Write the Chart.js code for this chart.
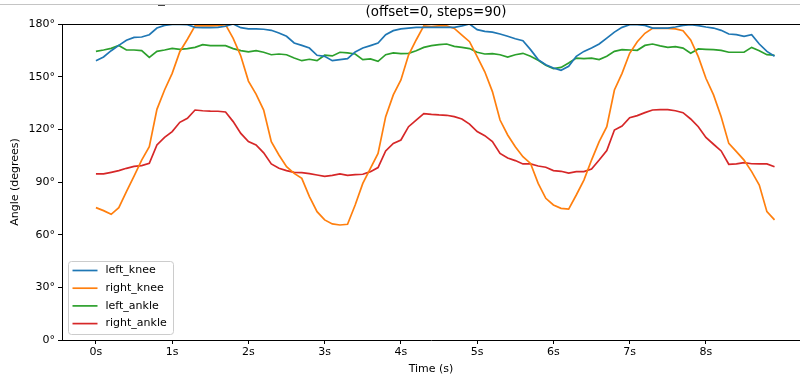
<html>
  <head>
    <style>
body {
  margin: 0;
  background: #fff;
  overflow: hidden;
}

#wrap {
  width: 800px;
  height: 376px;
  position: relative;
}
    </style>
  </head>
  <body>
    <div id="wrap"><canvas id="chart"></canvas></div>
    <script src="https://cdn.jsdelivr.net/npm/chart.js"></script>
    <script>

const seriesNames = ['left_knee', 'right_knee', 'left_ankle', 'right_ankle']
const seriesColors = ['#1f77b4', '#ff7f0e', '#2ca02c', '#d62728']
const secondTicks = [0, 1, 2, 3, 4, 5, 6, 7, 8]
const degreeTicks = [0, 30, 60, 90, 120, 150, 180]

const leftKnee = [
  159.1, 161.2, 164.8, 167.8, 170.7, 172.4, 172.6, 173.9, 177.7, 179.2, 179.8, 179.8, 179.6, 178.1, 177.9, 177.9, 178.1, 178.7, 180.0, 177.9, 177.2, 177.2, 177.0,
  176.4, 174.9, 173.0, 169.2, 167.8, 166.3, 162.2, 161.6, 159.1, 159.7, 160.3, 164.1, 166.3, 167.7, 169.2, 173.9, 176.2, 177.2, 177.7, 178.1, 178.1, 178.1, 178.1,
  178.1, 178.1, 178.9, 180.0, 176.8, 175.8, 175.4, 174.3, 173.0, 171.6, 170.5, 165.4, 159.7, 156.8, 154.9, 153.6, 155.9, 161.6, 164.4, 166.3, 168.6, 172.0, 175.4,
  178.1, 179.6, 179.6, 179.2, 177.7, 177.7, 177.7, 178.3, 179.2, 179.6, 179.1, 178.3, 177.7, 176.4, 174.3, 173.9, 173.0, 173.9, 168.6, 164.4, 161.6
]
const rightKnee = [
  75.4, 73.7, 71.6, 75.4, 84.5, 93.4, 102.5, 110.1, 131.4, 142.4, 151.9, 164.2, 171.3, 178.9, 178.9, 178.9, 179.0, 179.6, 171.8, 161.8, 147.5, 140.1, 131.0,
  113.0, 105.4, 98.7, 94.9, 92.1, 81.7, 73.1, 68.4, 66.1, 65.5, 65.9, 76.9, 89.2, 97.8, 106.3, 127.2, 139.6, 148.1, 162.3, 170.9, 178.9, 178.5, 178.9,
  179.0, 177.5, 173.7, 169.9, 161.4, 152.8, 141.5, 125.3, 116.8, 110.1, 104.4, 100.6, 89.2, 80.7, 76.9, 75.0, 74.6, 82.6, 91.1, 102.5, 113.0, 121.5, 142.4,
  151.9, 163.3, 169.9, 174.7, 177.5, 177.5, 177.5, 177.2, 176.2, 170.9, 161.4, 149.1, 139.6, 127.2, 112.0, 107.3, 102.5, 95.9, 88.3, 73.1, 68.4
]
const leftAnkle = [
  164.4, 165.2, 166.1, 167.8, 165.2, 165.2, 164.8, 161.0, 164.4, 165.2, 166.1, 165.6, 166.0, 166.7, 168.2, 167.7, 167.7, 167.7, 166.0, 164.8, 164.1, 164.8, 163.9,
  162.5, 162.9, 162.5, 160.6, 159.1, 159.9, 159.1, 162.2, 161.8, 163.9, 163.5, 162.9, 159.7, 160.1, 158.7, 162.5, 163.5, 163.1, 163.3, 164.8, 166.7, 167.7, 168.2,
  168.6, 167.3, 166.7, 166.0, 163.9, 162.9, 163.1, 162.5, 161.2, 162.5, 163.3, 161.6, 159.3, 156.5, 154.6, 155.3, 157.8, 160.6, 160.3, 160.6, 159.7, 161.6, 164.4,
  165.4, 165.2, 165.0, 167.8, 168.6, 167.5, 166.7, 167.1, 166.3, 163.3, 165.8, 165.6, 165.4, 165.0, 163.9, 163.9, 163.9, 166.7, 164.8, 162.5, 162.2
]
const rightAnkle = [
  94.6, 94.6, 95.5, 96.5, 97.8, 98.9, 99.3, 100.6, 111.1, 115.4, 118.7, 124.0, 126.3, 131.0, 130.6, 130.4, 130.3, 129.9, 124.4, 117.7, 113.0, 111.1, 106.6,
  100.3, 97.8, 96.5, 95.5, 95.3, 94.8, 94.0, 93.2, 93.8, 94.6, 93.8, 94.2, 94.4, 95.9, 98.2, 107.7, 112.0, 113.9, 121.5, 125.3, 128.9, 128.5, 128.2,
  128.0, 127.2, 125.9, 123.0, 118.7, 116.4, 113.0, 106.3, 103.7, 102.2, 100.3, 100.3, 99.1, 98.4, 96.5, 96.1, 95.1, 95.9, 95.9, 97.4, 102.5, 107.9, 119.6,
  121.9, 126.6, 127.8, 129.5, 131.0, 131.2, 131.2, 130.6, 129.5, 125.9, 121.5, 115.4, 111.5, 107.7, 100.1, 100.3, 101.0, 100.4, 100.3, 100.3, 98.7
]

// 90 steps, one frame every 0.1 s
const times = leftKnee.map((_, i) => i / 10)
const allSeries = [leftKnee, rightKnee, leftAnkle, rightAnkle]

const FONT = "'DejaVu Sans', sans-serif"

const extras = {
  id: 'extras',
  beforeDraw(chart) {
    const ctx = chart.ctx
    ctx.save()
    ctx.fillStyle = '#fff'
    ctx.fillRect(0, 0, chart.width, chart.height)
    ctx.strokeStyle = '#c4c4c4'
    ctx.lineWidth = 1
    ctx.beginPath()
    ctx.moveTo(0, 4.5)
    ctx.lineTo(chart.width, 4.5)
    ctx.stroke()
    ctx.strokeStyle = '#444'
    ctx.beginPath()
    ctx.moveTo(158, 5.5)
    ctx.lineTo(165, 5.5)
    ctx.stroke()
    ctx.restore()
  },
  afterDraw(chart) {
    const ctx = chart.ctx
    const area = chart.chartArea
    ctx.save()
    // top spine
    ctx.strokeStyle = '#000'
    ctx.lineWidth = 1
    ctx.beginPath()
    ctx.moveTo(area.left, area.top + 0.5)
    ctx.lineTo(area.right, area.top + 0.5)
    ctx.stroke()

    // title, centred on the full (cropped) axes
    ctx.fillStyle = '#000'
    ctx.font = '13.4px ' + FONT
    ctx.textAlign = 'center'
    ctx.textBaseline = 'middle'
    ctx.fillText('(offset=0, steps=90)', 436, 13)

    // legend in lower left corner
    const bx = area.left + 6.5
    const by = area.bottom - 78.5
    ctx.fillStyle = 'rgba(255,255,255,0.8)'
    ctx.strokeStyle = '#cccccc'
    ctx.beginPath()
    ctx.roundRect(bx, by, 105, 73, 3)
    ctx.fill()
    ctx.stroke()
    ctx.font = '11px ' + FONT
    ctx.textAlign = 'left'
    chart.data.datasets.forEach((ds, i) => {
      const y = by + 9 + i * 17.7
      ctx.strokeStyle = ds.borderColor
      ctx.lineWidth = 1.7
      ctx.beginPath()
      ctx.moveTo(bx + 4, y)
      ctx.lineTo(bx + 29, y)
      ctx.stroke()
      ctx.fillStyle = '#000'
      ctx.fillText(ds.label, bx + 37, y)
    })
    ctx.restore()
  }
}

new Chart(document.getElementById('chart'), {
  type: 'line',
  data: {
    datasets: seriesNames.map((name, k) => ({
      label: name,
      data: allSeries[k].map((v, i) => ({ x: times[i], y: v })),
      borderColor: seriesColors[k],
      backgroundColor: seriesColors[k],
      borderWidth: 1.7,
      pointRadius: 0,
      tension: 0
    }))
  },
  options: {
    responsive: true,
    maintainAspectRatio: false,
    animation: false,
    events: [],
    layout: { padding: { top: 24, left: 0, right: 0, bottom: 0 } },
    plugins: {
      legend: { display: false },
      tooltip: { enabled: false }
    },
    scales: {
      x: {
        type: 'linear',
        min: -0.445,
        max: 9.234,
        afterBuildTicks: axis => { axis.ticks = secondTicks.map(v => ({ value: v })) },
        afterFit: scale => { scale.height = 36 },
        ticks: {
          callback: v => v + 's',
          color: '#000',
          font: { family: FONT, size: 11 },
          padding: 2,
          maxRotation: 0,
          autoSkip: false
        },
        grid: {
          drawOnChartArea: false,
          drawTicks: true,
          tickLength: 4,
          color: '#000'
        },
        border: { display: true, color: '#000', width: 1 },
        title: {
          display: true,
          text: 'Time (s)',
          color: '#000',
          font: { family: FONT, size: 11 },
          padding: { top: 1, bottom: 0 }
        }
      },
      y: {
        min: 0,
        max: 180,
        afterBuildTicks: axis => { axis.ticks = degreeTicks.map(v => ({ value: v })) },
        afterFit: scale => { scale.width = 62 },
        ticks: {
          callback: v => v + '°',
          color: '#000',
          font: { family: FONT, size: 11 },
          padding: 3
        },
        grid: {
          drawOnChartArea: false,
          drawTicks: true,
          tickLength: 4,
          color: '#000'
        },
        border: { display: true, color: '#000', width: 1 },
        title: {
          display: true,
          text: 'Angle (degrees)',
          color: '#000',
          font: { family: FONT, size: 11 },
          padding: { top: 9, bottom: 0 }
        }
      }
    }
  },
  plugins: [extras]
})
    </script>
  </body>
</html>
